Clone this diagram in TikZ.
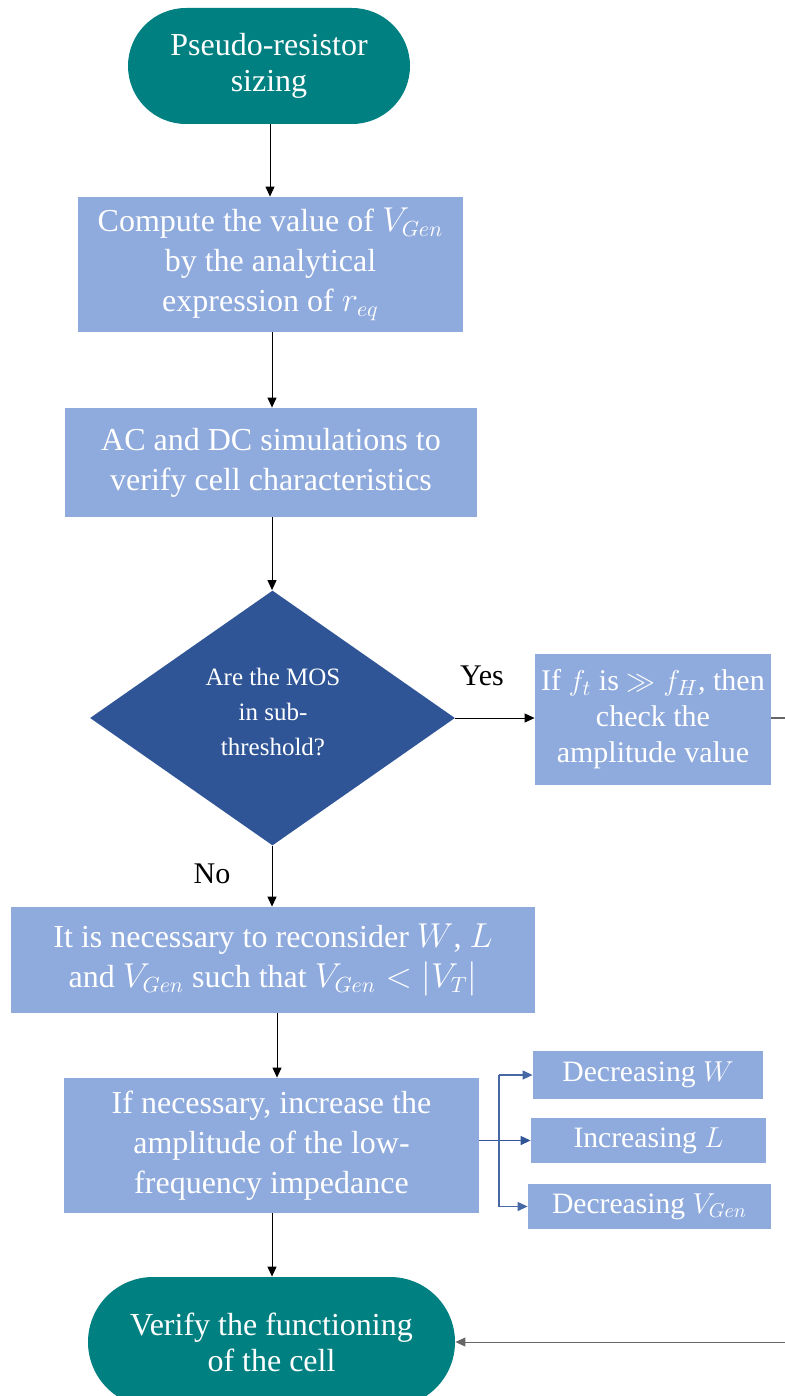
\documentclass[tikz,border=0pt]{standalone}
\usepackage{fontspec}
\setmainfont{Liberation Serif}
\usetikzlibrary{arrows.meta,shapes.geometric}
\definecolor{teal1}{RGB}{0,128,128}
\definecolor{lblue}{RGB}{143,170,220}
\definecolor{dblue}{RGB}{47,85,151}
\definecolor{brblue}{RGB}{70,105,165}
\tikzset{
  boxx/.style={fill=lblue, text=white, align=center, inner sep=0pt, font=\fontsize{16}{20}\selectfont},
  smallbox/.style={boxx, font=\fontsize{14.8}{18}\selectfont},
  term/.style={fill=teal1, text=white, align=center, inner sep=0pt, font=\fontsize{16}{18}\selectfont},
  arr/.style={draw=black, line width=0.5pt, -{Triangle[length=5pt,width=4.5pt]}},
  brarr/.style={draw=brblue, line width=0.6pt, -{Triangle[length=5pt,width=4.5pt]}},
  lab/.style={text=black, font=\fontsize{15}{18}\selectfont, inner sep=0pt}
}
\begin{document}
\begin{tikzpicture}[x=0.5pt,y=-0.5pt]
\useasboundingbox (0,0) rectangle (785,1396);
\clip (0,0) rectangle (785,1396);
% nodes
\node[term, minimum width=141pt, minimum height=58pt, rounded corners=29pt] (start) at (269,66) {Pseudo-resistor\\sizing};
\node[boxx, minimum width=192.5pt, minimum height=67.5pt] (b1) at (270.5,264.5) {Compute the value of $V_{Gen}$\\by the analytical\\expression of $r_{eq}$};
\node[boxx, minimum width=206pt, minimum height=54.5pt] (b2) at (271,462.5) {AC and DC simulations to\\verify cell characteristics};
\node[diamond, fill=dblue, minimum width=182.5pt, minimum height=127.5pt, inner sep=0pt] (dec) at (272.5,718) {};
\node[text=white, align=center, font=\fontsize{12.5}{17.5}\selectfont] (dect) at (273,712) {Are the MOS\\in sub-\\threshold?};
\node[boxx, minimum width=118pt, minimum height=65.5pt, font=\fontsize{15}{18}\selectfont] (b3) at (653,719.5) {If $f_t$ is $\gg f_H$, then\\check the\\amplitude value};
\node[boxx, minimum width=262pt, minimum height=53pt] (b4) at (273,960) {It is necessary to reconsider $W$, $L$\\and $V_{Gen}$ such that $V_{Gen} < |V_T|$};
\node[boxx, minimum width=207.5pt, minimum height=67.5pt] (b5) at (271.5,1145.5) {If necessary, increase the\\amplitude of the low-\\frequency impedance};
\node[smallbox, minimum width=115pt, minimum height=24pt] (dw) at (648,1075) {Decreasing $W$};
\node[smallbox, minimum width=117.5pt, minimum height=22.5pt] (il) at (648.5,1140.5) {Increasing $L$};
\node[smallbox, minimum width=121.5pt, minimum height=22.5pt] (dv) at (649.5,1206.5) {Decreasing $V_{Gen}$};
\node[term, minimum width=183.5pt, minimum height=65pt, rounded corners=32.5pt] (end) at (271.5,1342) {Verify the functioning\\of the cell};
\node[lab] (yes) at (482,676) {Yes};
\node[lab] (no) at (212,874) {No};
% connectors
\coordinate (x270) at (270,0);
\coordinate (x272) at (272,0);
\coordinate (x277) at (277,0);
\draw[arr] (start.south -| x270) -- (b1.north -| x270);
\draw[arr] (b1.south -| x272) -- (b2.north -| x272);
\draw[arr] (b2.south -| x272) -- (dec.north -| x272);
\draw[arr] (dec.east) -- (b3.west |- dec.east);
\draw[arr] (dec.south -| x272) -- (b4.north -| x272);
\draw[arr] (b4.south -| x277) -- (b5.north -| x277);
\draw[arr] (b5.south -| x272) -- (end.north -| x272);
\coordinate (rt) at (792,718);
\coordinate (rb) at (792,1342);
\draw[draw=gray!80!black, line width=0.6pt] (b3.east |- rt) -- (rt) -- (rb);
\draw[arr, draw=gray!80!black] (rb) -- (end.east);
% branch
\coordinate (bt) at (499,1075);
\coordinate (bb) at (499,1206.5);
\draw[brarr, draw=dblue] (b5.east |- il) -- (il.west);
\draw[draw=brblue, line width=0.6pt] (bt) -- (bb);
\draw[brarr] (bt) -- (dw.west);
\draw[brarr] (bb) -- (dv.west);
\end{tikzpicture}
\end{document}
